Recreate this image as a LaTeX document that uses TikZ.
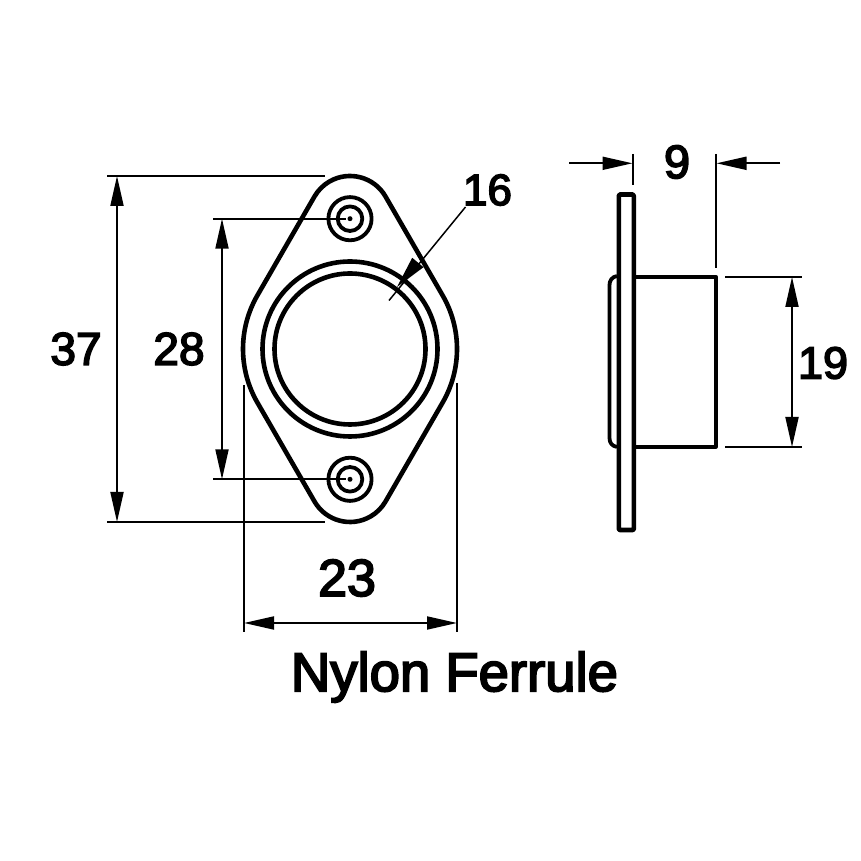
\documentclass[tikz,border=0pt]{standalone}
\usepackage{fontspec}
\setmainfont{Liberation Sans}[FakeBold=3.5]
\usetikzlibrary{arrows.meta}
\tikzset{
  part/.style={line width=4.6pt,line join=round},
  rim/.style={line width=3.8pt,line join=round},
  thin/.style={line width=1.9pt},
  dim/.style={thin,{Triangle[length=30pt,width=13pt]}-{Triangle[length=30pt,width=13pt]}},
  dimend/.style={thin,-{Triangle[length=30pt,width=13pt]}},
  lab/.style={inner sep=0pt,text=black}
}
\begin{document}
\begin{tikzpicture}[x=1pt,y=1pt]
\useasboundingbox (0,0) rectangle (861,861);
% flange outline, front view
\draw[part] (385.5,664.5) arc[start angle=30,end angle=150,radius=41]
  -- (257.34,565.5) arc[start angle=150,end angle=210,radius=107]
  -- (314.5,359.5) arc[start angle=210,end angle=330,radius=41]
  -- (442.66,458.5) arc[start angle=-30,end angle=30,radius=107] -- cycle;
% bore rings
\draw[part] (350,512) circle[radius=87.5];
\draw[part] (350,512) circle[radius=75.5];
% screw holes
\foreach \yy in {642.3,381.7}{
  \draw[rim] (350,\yy) circle[radius=21.6];
  \draw[rim] (350,\yy) circle[radius=12.3];
  \fill (350,\yy) circle[radius=2.5];
}
% extension lines, front view
\draw[thin] (107,685) -- (325,685);
\draw[thin] (107,339) -- (325,339);
\draw[thin] (213,642.3) -- (346,642.3);
\draw[thin] (213,381.7) -- (346,381.7);
\draw[thin] (244,476) -- (244,229);
\draw[thin] (457,478) -- (457,229);
% dimension arrows, front view
\draw[dim] (117,685) -- (117,339);
\draw[dim] (222,642.3) -- (222,381.7);
\draw[dim] (244,238) -- (457,238);
% diameter leader
\draw[line width=1.5pt] (465.5,654) -- (389,560.5);
\fill (412.2,603.2) -- (423.5,593.8) -- (397,574) -- cycle;
% side view
\draw[part] (618.8,332) -- (619.8,331) -- (632.8,331) -- (633.8,332) -- (633.8,665) -- (632.8,666.5) -- (619.8,666.5) -- (618.8,665) -- cycle;
\draw[rim] (634,584.3) -- (715.7,584.3) -- (715.7,414.3) -- (634,414.3);
\draw[rim] (617,585) .. controls (612,584) and (609.5,580.5) .. (609.5,576)
  -- (609.5,423) .. controls (609.5,418) and (612,415) .. (617,414);
% dimension 9
\draw[thin] (633.3,707) -- (633.3,675.5);
\draw[thin] (715.7,707) -- (715.7,593);
\draw[dimend] (569,697.7) -- (632.5,697.7);
\draw[dimend] (780,697.7) -- (716.5,697.7);
% dimension 19
\draw[thin] (725,584) -- (802,584);
\draw[thin] (725,414) -- (802,414);
\draw[dim] (792,584) -- (792,414);
% labels
\node[lab,font=\fontsize{46}{46}\selectfont] (d37) at (76,512) {37};
\node[lab,font=\fontsize{46}{46}\selectfont] (d28) at (179,512) {28};
\node[lab,font=\fontsize{44}{44}\selectfont] (d16) at (487.5,671) {16};
\node[lab,font=\fontsize{47}{47}\selectfont] (d9) at (677,699) {9};
\node[lab,font=\fontsize{45}{45}\selectfont] (d19) at (823,498) {19};
\node[lab,font=\fontsize{52}{52}\selectfont] (d23) at (347,283) {23};
\node[lab,font=\fontsize{54.5}{54.5}\selectfont] (title) at (454.5,184) {Nylon Ferrule};
\end{tikzpicture}
\end{document}
